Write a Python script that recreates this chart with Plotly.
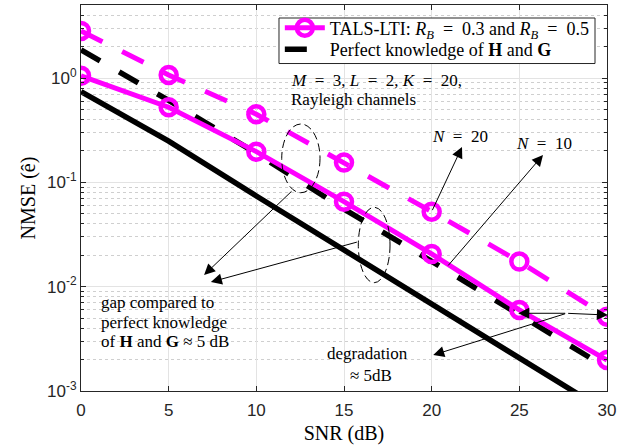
import plotly.graph_objects as go
import math

snr = [0, 5, 10, 15, 20, 25, 30]
tals_n10 = [1.05, 0.525, 0.197, 0.0653, 0.0206, 0.00598, 0.00198]
tals_n20 = [2.83, 1.07, 0.45, 0.1546, 0.0524, 0.0174, 0.00515]
perfect_n10 = [1.86, 0.61, 0.19, 0.0555, 0.0175, 0.0053, 0.00166]
perfect_n20 = [0.74, 0.248, 0.074, 0.0223, 0.0069, 0.00203, 0.00063]

ytickvals = [1e-3, 1e-2, 1e-1, 1e0]
yticktext = ["10<sup>-3</sup>", "10<sup>-2</sup>", "10<sup>-1</sup>", "10<sup>0</sup>"]
xtickvals = [0, 5, 10, 15, 20, 25, 30]

MAG = "#FF00FF"
SERIF = "Liberation Serif"
SANS = "Liberation Sans"
EQ = "\u00a0=\u00a0"  # wider spacing around '=' (LaTeX-like)

fig = go.Figure()
fig.add_trace(go.Scatter(x=snr, y=perfect_n20, mode="lines", line=dict(color="black", width=5.5),
                         showlegend=False))
fig.add_trace(go.Scatter(x=snr, y=perfect_n10, mode="lines", line=dict(color="black", width=5.5, dash="22px,22px"),
                         name="Perfect knowledge of <b>H</b> and <b>G</b>", legend="legend2"))
fig.add_trace(go.Scatter(x=snr, y=tals_n20, mode="lines+markers", line=dict(color=MAG, width=5, dash="24px,22px"),
                         marker=dict(symbol="circle-open", size=16, color=MAG, line=dict(width=4.5, color=MAG)),
                         showlegend=False))
fig.add_trace(go.Scatter(x=snr, y=tals_n10, mode="lines+markers", line=dict(color=MAG, width=5),
                         marker=dict(symbol="circle-open", size=16, color=MAG, line=dict(width=4.5, color=MAG)),
                         name=f"TALS-LTI: <i>R</i><sub><i>B</i></sub> {EQ} 0.3 and <i>R</i><sub><i>B</i></sub> {EQ} 0.5",
                         legend="legend"))

# text annotations (x in dB, y in log10 units)
texts = [
    (f"<i>M</i> {EQ} 3, <i>L</i> {EQ} 2, <i>K</i> {EQ} 20,", 11.86, -0.019, "left"),
    ("Rayleigh channels", 11.86, -0.201, "left"),
    (f"<i>N</i> {EQ} 20", 21.62, -0.556, "center"),
    (f"<i>N</i> {EQ} 10", 26.41, -0.623, "center"),
    ("gap compared to", 1.03, -2.147, "left"),
    ("perfect knowledge", 1.03, -2.339, "left"),
    ("of <b>H</b> and <b>G</b> ≈ 5 dB", 1.03, -2.530, "left"),
    ("degradation", 16.34, -2.645, "center"),
    ("≈ 5dB", 16.54, -2.847, "center"),
]
for t, x, y, anc in texts:
    fig.add_annotation(text=t, x=x, y=y, xref="x", yref="y", showarrow=False, xanchor=anc, yanchor="middle",
                       font=dict(family=SERIF, size=17, color="black"))

arrows = [
    # tail x, tail y, head x, head y
    (20.0, math.log10(tals_n20[4]), 21.73, -0.661),
    (20.87, -1.811, 26.35, -0.738),
    (12.09, -1.073, 7.02, -1.888),
    (15.82, -1.569, 7.41, -1.955),
    (27.70, -2.255, 24.94, -2.255),
    (27.70, -2.255, 30.05, -2.272),
    (27.70, -2.255, 20.09, -2.655),
]
for tx, ty, hx, hy in arrows:
    fig.add_annotation(text="", x=hx, y=hy, ax=tx, ay=ty, xref="x", yref="y", axref="x", ayref="y",
                       showarrow=True, arrowhead=2, arrowsize=2.2, arrowwidth=1, arrowcolor="black",
                       standoff=0, startstandoff=0)

# dashed ellipses (paper coordinates)
for x0, x1, y0, y1 in [(0.3816, 0.4544, 0.5137, 0.6917), (0.5272, 0.5875, 0.2806, 0.4759)]:
    fig.add_shape(type="circle", xref="paper", yref="paper", x0=x0, x1=x1, y0=y0, y1=y1,
                  line=dict(color="black", width=1, dash="8px,4px"))

# legend frame
fig.add_shape(type="rect", xref="paper", yref="paper", x0=0.3764, x1=0.9772, y0=0.8484, y1=0.9663,
              line=dict(color="#262626", width=1), fillcolor="white", layer="above")

axis_common = dict(showline=True, linecolor="#262626", linewidth=1, mirror="ticks", ticks="inside",
                   tickcolor="#262626", ticklen=5, tickfont=dict(family=SANS, size=17, color="#262626"),
                   showgrid=True, gridcolor="#e3e3e3", gridwidth=1, zeroline=False)

fig.update_xaxes(range=[0, 30], tickvals=xtickvals, **axis_common, ticklabelstandoff=4,
                 title=dict(text="SNR (dB)", font=dict(family=SERIF, size=20, color="black"), standoff=6))
fig.update_yaxes(type="log", range=[-3, 0.7], tickvals=ytickvals, ticktext=yticktext, **axis_common,
                 minor=dict(dtick="D1", ticks="inside", ticklen=3, tickcolor="#262626", showgrid=True,
                            gridcolor="#cfcfcf", griddash="dot", gridwidth=1),
                 title=dict(text="NMSE (ê)", font=dict(family=SERIF, size=20, color="black"), standoff=6))

leg_common = dict(xanchor="left", yanchor="middle", bgcolor="rgba(0,0,0,0)", borderwidth=0, itemwidth=40,
                  font=dict(family=SERIF, size=18, color="black"))
fig.update_layout(
    width=634, height=447,
    margin=dict(l=81, r=27, t=5, b=56),
    paper_bgcolor="white", plot_bgcolor="white",
    legend=dict(x=0.378, y=0.9404, **leg_common),
    legend2=dict(x=0.378, y=0.8847, **leg_common),
)

fig.write_html("out.html")
